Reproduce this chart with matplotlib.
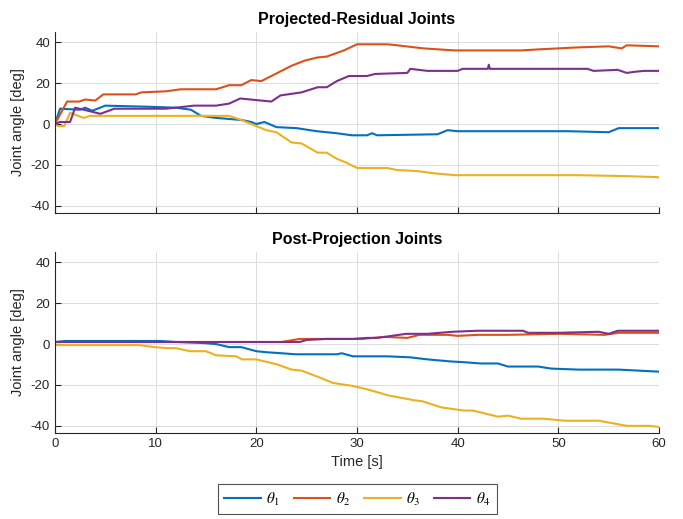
import numpy as np
import matplotlib
matplotlib.use("Agg")
import matplotlib.pyplot as plt

plt.rcParams['font.family'] = ['Liberation Sans', 'DejaVu Sans']
plt.rcParams['axes.unicode_minus'] = False
plt.rcParams['mathtext.fontset'] = 'stix'

# Projected-residual joints (top panel): (time, angle) breakpoints
t1_top = [0, 0.5, 2.5, 3, 3.7, 5, 9, 12, 13.5, 14.5, 16, 18.5, 19.5, 20, 20.8, 22, 24, 26, 28, 29.5, 31, 31.5, 32, 38, 39, 40, 50.5, 51, 55, 56, 60]
y1_top = [0, 7.5, 7, 8, 6.5, 9, 8.5, 8, 7, 4, 3, 2, 1, 0, 1, -1.5, -2, -3.5, -4.5, -5.5, -5.5, -4.5, -5.5, -5, -3, -3.5, -3.5, -3.5, -4, -2, -2]

t2_top = [0, 1.2, 2.4, 3, 4, 4.8, 8, 8.6, 11, 12.5, 16, 17.3, 18.5, 19.5, 20.5, 21.7, 23.5, 24.8, 26, 27, 28.7, 30, 33, 34, 36.6, 39.7, 46.3, 48, 50, 52, 55, 56.3, 56.8, 60]
y2_top = [0, 11, 11, 12, 11.5, 14.5, 14.5, 15.5, 16, 17, 17, 19, 19, 21.5, 21, 24, 28.5, 31, 32.5, 33, 36, 39, 39, 38.5, 37, 36, 36, 36.5, 37, 37.5, 38, 37, 38.5, 38]

t3_top = [0, 0.3, 0.9, 1.2, 1.5, 2.85, 3.5, 17.3, 18.5, 19.5, 21, 22, 23.5, 24.5, 26.1, 27, 28, 29, 30, 33, 34, 36, 37.5, 39.7, 52, 57, 60]
y3_top = [0, -1, -1, 2, 5.5, 3, 4, 4, 2, 0, -3, -4, -9, -9.5, -14, -14, -17, -19, -21.5, -21.5, -22.5, -23, -24, -25, -25, -25.5, -26]

t4_top = [0, 0.5, 1.5, 2, 3.7, 4.5, 5.9, 11, 12, 13.8, 16, 17.3, 18.4, 21.5, 22.4, 24.5, 26.1, 27, 28, 29.2, 31, 31.8, 35, 35.3, 37, 40, 40.5, 43.0, 43.1, 43.2, 52.9, 53.5, 55.9, 56.8, 57.5, 58.5, 60]
y4_top = [0, 1, 1, 8, 6, 5, 7.5, 7.5, 8, 9, 9, 10, 12.5, 11, 14, 15.5, 18, 18, 21, 23.5, 23.5, 24.5, 25, 27, 26, 26, 27, 27, 29, 27, 27, 26, 26.5, 25, 25.5, 26, 26]

# Post-projection joints (bottom panel)
t1_bot = [0, 1, 10.5, 12, 14.7, 16, 17.3, 18.5, 20, 21, 22.5, 23.9, 28, 28.5, 29.6, 33, 35.3, 37, 39.3, 41, 42.3, 44, 45, 48, 49.3, 52, 56, 60]
y1_bot = [1, 1.5, 1.5, 1, 0.5, 0, -1.5, -1.5, -3.5, -4, -4.5, -5, -5, -4.5, -6, -6, -6.5, -7.5, -8.5, -9, -9.5, -9.5, -11, -11, -12, -12.5, -12.5, -13.5]

t2_bot = [0, 20.8, 22.5, 24.3, 28, 30.5, 32.7, 35, 36.2, 39, 40, 42, 45, 50, 54.6, 56, 60]
y2_bot = [1, 1, 1, 2.5, 2.5, 2.5, 3.5, 3, 4.5, 4.5, 4, 4.5, 4.5, 5, 4.5, 5.5, 5.5]

t3_bot = [0, 8.3, 9.9, 11.2, 12, 13.4, 15, 16, 18, 18.6, 20, 22.1, 23.5, 24.5, 26.1, 27.6, 29.6, 30.9, 32.7, 33, 35.7, 36.5, 38.4, 40.6, 41.5, 44, 45, 46.3, 48.5, 50.7, 54, 54.6, 56.8, 59, 60]
y3_bot = [-0.5, -0.5, -1.5, -2, -2, -3.5, -3.5, -5.5, -6, -7.5, -7.5, -10, -12.5, -13, -16, -19, -20.5, -22, -24.5, -25, -27.5, -28, -31, -32.5, -32.5, -35.5, -35, -36.5, -36.5, -37.5, -37.5, -38, -40, -40, -40.5]

t4_bot = [0, 20, 24.3, 25, 27, 29.6, 31, 32, 34.9, 37, 39.5, 41.9, 46.5, 47, 50, 54, 55, 55.9, 60]
y4_bot = [1, 1, 1, 2, 2.5, 2.5, 3, 3, 5, 5, 6, 6.5, 6.5, 5.5, 5.5, 6, 5, 6.5, 6.5]

labels = [r'$\theta_1$', r'$\theta_2$', r'$\theta_3$', r'$\theta_4$']
colors = ['#0072BD', '#D95319', '#EDB120', '#7E2F8E']
xticks = [0, 10, 20, 30, 40, 50, 60]
yticks = [-40, -20, 0, 20, 40]

fig = plt.figure(figsize=(6.83, 5.19), dpi=100)
ax_top = fig.add_axes([0.0805, 0.5896, 0.8843, 0.3487])
ax_bot = fig.add_axes([0.0805, 0.1657, 0.8843, 0.3487])

top_data = [(t1_top, y1_top), (t2_top, y2_top), (t3_top, y3_top), (t4_top, y4_top)]
bot_data = [(t1_bot, y1_bot), (t2_bot, y2_bot), (t3_bot, y3_bot), (t4_bot, y4_bot)]

def style_axes(ax, title):
    ax.set_xlim(0, 60)
    ax.set_ylim(-43.5, 45)
    ax.set_xticks(xticks)
    ax.set_yticks(yticks)
    ax.grid(True, color='#dcdcdc', linewidth=0.7)
    ax.set_axisbelow(True)
    for side in ['top', 'right']:
        ax.spines[side].set_visible(False)
    for side in ['left', 'bottom']:
        ax.spines[side].set_color('#262626')
        ax.spines[side].set_linewidth(0.8)
    ax.tick_params(direction='in', length=4, colors='#262626', labelsize=9.5)
    ax.set_ylabel('Joint angle [deg]', fontsize=10.5, color='#262626')
    ax.set_title(title, fontsize=11.5, fontweight='bold', pad=6)

lines = []
for (t, y), c, lab in zip(top_data, colors, labels):
    ax_top.plot(t, y, color=c, lw=1.5, label=lab)
for (t, y), c, lab in zip(bot_data, colors, labels):
    ln, = ax_bot.plot(t, y, color=c, lw=1.5, label=lab)
    lines.append(ln)

style_axes(ax_top, 'Projected-Residual Joints')
style_axes(ax_bot, 'Post-Projection Joints')
ax_top.tick_params(labelbottom=False)
ax_bot.set_xlabel('Time [s]', fontsize=10.5, color='#262626')

leg = fig.legend(lines, labels, loc='center', bbox_to_anchor=(0.523, 0.0385), ncol=4,
                 frameon=True, fancybox=False, edgecolor='#262626', fontsize=11,
                 handlelength=2.4, columnspacing=0.9, handletextpad=0.35,
                 borderpad=0.45, borderaxespad=0)
leg.get_frame().set_linewidth(0.8)

fig.savefig('out.png', dpi=100)
